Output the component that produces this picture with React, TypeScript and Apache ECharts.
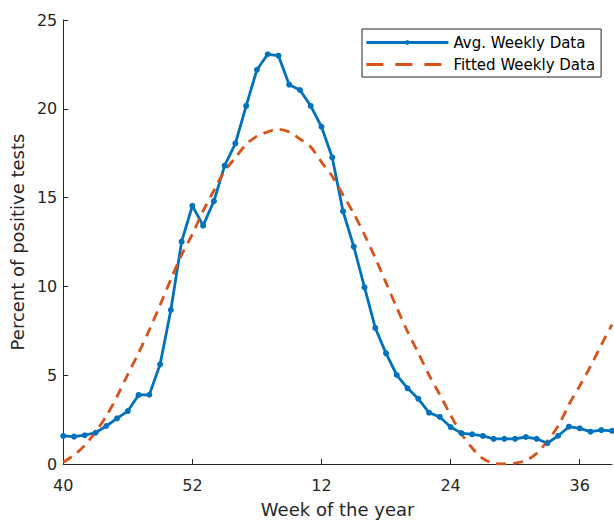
import React, { useEffect, useRef } from "react";
import * as echarts from "echarts";

const weeks = [
  "40", "41", "42", "43", "44", "45", "46", "47", "48", "49", "50", "51", "52",
  "1", "2", "3", "4", "5", "6", "7", "8", "9", "10", "11", "12", "13", "14", "15",
  "16", "17", "18", "19", "20", "21", "22", "23", "24", "25", "26", "27", "28",
  "29", "30", "31", "32", "33", "34", "35", "36", "37", "38", "39",
];

const avgWeekly = [
  1.58, 1.54, 1.62, 1.76, 2.14, 2.57, 2.98, 3.89, 3.9, 5.61,
  8.67, 12.52, 14.54, 13.42, 14.8, 16.8, 18.05, 20.16, 22.2, 23.07,
  22.99, 21.36, 21.06, 20.16, 18.99, 17.26, 14.23, 12.24, 9.95, 7.66,
  6.23, 5.01, 4.26, 3.67, 2.89, 2.65, 2.08, 1.74, 1.67, 1.58,
  1.42, 1.42, 1.42, 1.52, 1.42, 1.17, 1.59, 2.1, 2.01, 1.82,
  1.91, 1.87,
];

const fittedWeekly = [
  0.1, 0.5, 1.05, 1.8, 2.7, 3.8, 5.05, 6.25, 7.55, 8.95,
  10.4, 11.77, 12.95, 14.25, 15.4, 16.5, 17.25, 18.0, 18.45, 18.7,
  18.85, 18.7, 18.3, 17.85, 17.0, 16.2, 15.15, 14.1, 12.9, 11.6,
  10.2, 8.8, 7.45, 6.25, 5.0, 3.9, 2.75, 1.7, 0.9, 0.3,
  0.05, 0.0, 0.05, 0.2, 0.6, 1.3, 2.15, 3.35, 4.4, 5.5,
  6.7, 7.85,
];

const seriesNames = ["Avg. Weekly Data", "Fitted Weekly Data"];
const xName = "Week of the year";
const yName = "Percent of positive tests";

const AXIS = "#262626";
const FONT = "DejaVu Sans";

export default function App() {
  const ref = useRef<HTMLDivElement>(null);
  useEffect(() => {
    if (!ref.current) return;
    const chart = echarts.init(ref.current, null, { renderer: "svg" });
    const everyTwelve = (i: number) => i % 12 === 0;
    chart.setOption({
      animation: false,
      backgroundColor: "#ffffff",
      textStyle: { fontFamily: FONT },
      grid: { left: 61, right: 2, top: 20, bottom: 59, containLabel: false },
      legend: {
        orient: "vertical",
        left: 362,
        top: 29,
        padding: [6, 6, 5, 3],
        itemWidth: 82,
        itemHeight: 6,
        itemGap: 7,
        backgroundColor: "#ffffff",
        borderColor: AXIS,
        borderWidth: 1,
        textStyle: { fontFamily: FONT, fontSize: 15, color: "#000000" },
        data: [
          { name: seriesNames[0], lineStyle: { width: 2.8 } },
          {
            name: seriesNames[1],
            lineStyle: { type: [17, 12], width: 2.8 },
            itemStyle: { opacity: 0 },
          },
        ],
      },
      xAxis: {
        type: "category",
        data: weeks,
        boundaryGap: false,
        name: xName,
        nameLocation: "middle",
        nameGap: 36,
        nameTextStyle: { fontFamily: FONT, fontSize: 18, color: AXIS },
        axisLine: { show: true, lineStyle: { color: AXIS, width: 1 } },
        axisTick: { show: true, inside: true, length: 5, interval: everyTwelve, lineStyle: { color: AXIS } },
        axisLabel: { interval: everyTwelve, margin: 13, fontFamily: FONT, fontSize: 16, color: AXIS },
        splitLine: { show: false },
      },
      yAxis: {
        type: "value",
        min: 0,
        max: 25,
        interval: 5,
        name: yName,
        nameLocation: "middle",
        nameGap: 30,
        nameTextStyle: { fontFamily: FONT, fontSize: 18, color: AXIS },
        axisLine: { show: true, lineStyle: { color: AXIS, width: 1 } },
        axisTick: { show: true, inside: true, length: 5, lineStyle: { color: AXIS } },
        axisLabel: { margin: 6, fontFamily: FONT, fontSize: 16, color: AXIS },
        splitLine: { show: false },
      },
      series: [
        {
          name: seriesNames[0],
          type: "line",
          data: avgWeekly,
          symbol: "circle",
          symbolSize: 6,
          showSymbol: true,
          lineStyle: { color: "#0072BD", width: 2.8 },
          itemStyle: { color: "#0072BD" },
        },
        {
          name: seriesNames[1],
          type: "line",
          data: fittedWeekly,
          symbol: "none",
          smooth: 0.3,
          lineStyle: { color: "#D95319", width: 2.8, type: [10, 7] },
          itemStyle: { color: "#D95319" },
        },
      ],
    });
    return () => chart.dispose();
  }, []);
  return (
    <div
      ref={ref}
      style={{ position: "fixed", left: 0, top: 0, width: 614, height: 523, background: "#fff" }}
    />
  );
}
